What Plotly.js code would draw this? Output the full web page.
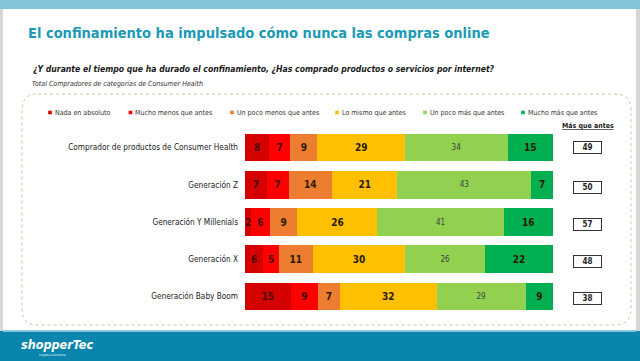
<!DOCTYPE html>
<html>
<head>
<meta charset="utf-8">
<script src="https://cdn.plot.ly/plotly-3.0.1.min.js"></script>
<style>
  html, body { margin: 0; padding: 0; background: #ffffff; }
  #chart { width: 640px; height: 361px; }
</style>
</head>
<body>
<div id="chart"></div>
<script>
// ---------- data ----------
const categories = [
  'Comprador de productos de Consumer Health',
  'Generación Z',
  'Generación Y Millenials',
  'Generación X',
  'Generación Baby Boom'
];
const seriesNames = [
  'Nada en absoluto',
  'Mucho menos que antes',
  'Un poco menos que antes',
  'Lo mismo que antes',
  'Un poco más que antes',
  'Mucho más que antes'
];
const nadaEnAbsoluto   = [8, 7, 2, 6, 15];
const muchoMenos       = [7, 7, 6, 5, 9];
const unPocoMenos      = [9, 14, 9, 11, 7];
const loMismo          = [29, 21, 26, 30, 32];
const unPocoMas        = [34, 43, 41, 26, 29];
const muchoMas         = [15, 7, 16, 22, 9];
const masQueAntes      = [49, 50, 57, 48, 38];

const titleText    = 'El confinamiento ha impulsado cómo nunca las compras online';
const subtitleText = '¿Y durante el tiempo que ha durado el confinamiento, ¿Has comprado productos o servicios por internet?';
const baseText     = 'Total Compradores de categorías de Consumer Health';
const boxHeader    = 'Más que antes';

// ---------- styling ----------
const W = 640, H = 361;
const X = px => px / W;
const Y = py => 1 - py / H;
const FONT = '"DejaVu Sans Condensed", "DejaVu Sans", sans-serif';
const colors = ['#D50000', '#FF0000', '#ED7D31', '#FFC000', '#92D050', '#00B050'];
const seriesValues = [nadaEnAbsoluto, muchoMenos, unPocoMenos, loMismo, unPocoMas, muchoMas];

const traces = seriesValues.map((vals, i) => {
  const light = (i === 4);
  return {
    type: 'bar',
    orientation: 'h',
    name: seriesNames[i],
    y: categories,
    x: vals,
    text: vals.map(String),
    texttemplate: '%{text}',
    textposition: 'inside',
    insidetextanchor: 'middle',
    constraintext: 'none',
    textangle: 0,
    textfont: light
      ? { family: FONT, size: 8, color: '#404040' }
      : { family: FONT, size: 10, color: i < 2 ? '#4a0a00' : '#2a1a00', weight: 'bold' },
    marker: { color: colors[i], line: { width: 0 } },
    hoverinfo: 'skip',
    showlegend: false
  };
});

// ---------- shapes ----------
const shapes = [];
// side grey borders
shapes.push({ type: 'rect', xref: 'paper', yref: 'paper', x0: X(0), x1: X(3), y0: Y(361), y1: Y(0), fillcolor: '#d6d6d6', line: { width: 0 }, layer: 'below' });
shapes.push({ type: 'rect', xref: 'paper', yref: 'paper', x0: X(636), x1: X(640), y0: Y(361), y1: Y(0), fillcolor: '#d6d6d6', line: { width: 0 }, layer: 'below' });
// top bar
shapes.push({ type: 'rect', xref: 'paper', yref: 'paper', x0: X(0), x1: X(640), y0: Y(9), y1: Y(0), fillcolor: '#82C4D9', line: { width: 0 }, layer: 'below' });
// footer bar
shapes.push({ type: 'rect', xref: 'paper', yref: 'paper', x0: X(0), x1: X(640), y0: Y(361), y1: Y(331), fillcolor: '#0A86AE', line: { width: 0 }, layer: 'below' });
shapes.push({ type: 'rect', xref: 'paper', yref: 'paper', x0: X(3), x1: X(636), y0: Y(332), y1: Y(330), fillcolor: '#8ac6da', line: { width: 0 }, layer: 'below' });
// dotted rounded frame
(function () {
  const l = 22, r = 631, t = 94, b = 325, rad = 16;
  const p = 'M' + X(l + rad) + ',' + Y(t) +
    ' L' + X(r - rad) + ',' + Y(t) +
    ' Q' + X(r) + ',' + Y(t) + ' ' + X(r) + ',' + Y(t + rad) +
    ' L' + X(r) + ',' + Y(b - rad) +
    ' Q' + X(r) + ',' + Y(b) + ' ' + X(r - rad) + ',' + Y(b) +
    ' L' + X(l + rad) + ',' + Y(b) +
    ' Q' + X(l) + ',' + Y(b) + ' ' + X(l) + ',' + Y(b - rad) +
    ' L' + X(l) + ',' + Y(t + rad) +
    ' Q' + X(l) + ',' + Y(t) + ' ' + X(l + rad) + ',' + Y(t) + ' Z';
  shapes.push({ type: 'path', xref: 'paper', yref: 'paper', path: p, line: { color: '#c9c99a', width: 1, dash: 'dot' }, fillcolor: 'rgba(0,0,0,0)', layer: 'below' });
})();

// legend (manual)
const legendMarkerX = [50, 130.5, 232, 337, 425, 523];
const legendY = 112.5;
const annotations = [];
seriesNames.forEach((n, i) => {
  const cx = legendMarkerX[i];
  shapes.push({ type: 'rect', xref: 'paper', yref: 'paper', x0: X(cx - 1.8), x1: X(cx + 1.8), y0: Y(legendY + 1.8), y1: Y(legendY - 1.8), fillcolor: colors[i], line: { width: 0 } });
  annotations.push({ xref: 'paper', yref: 'paper', x: X(cx + 2.5), y: Y(legendY), xanchor: 'left', yanchor: 'middle', showarrow: false, text: n, font: { family: FONT, size: 7, color: '#333333' } });
});

// title texts
annotations.push({ xref: 'paper', yref: 'paper', x: X(26), y: Y(33), xanchor: 'left', yanchor: 'middle', showarrow: false, text: titleText, font: { family: FONT, size: 14.5, color: '#1A9AB6', weight: 'bold' } });
annotations.push({ xref: 'paper', yref: 'paper', x: X(31), y: Y(69), xanchor: 'left', yanchor: 'middle', showarrow: false, text: '<b><i>' + subtitleText + '</i></b>', font: { family: FONT, size: 8.6, color: '#1a1a1a' } });
annotations.push({ xref: 'paper', yref: 'paper', x: X(30), y: Y(84), xanchor: 'left', yanchor: 'middle', showarrow: false, text: '<i>' + baseText + '</i>', font: { family: FONT, size: 7, color: '#333333' } });

// "Más que antes" header and boxes
annotations.push({ xref: 'paper', yref: 'paper', x: X(587.5), y: Y(126), xanchor: 'center', yanchor: 'middle', showarrow: false, text: '<b><u>' + boxHeader + '</u></b>', font: { family: FONT, size: 7, color: '#222222' } });
masQueAntes.forEach((v, i) => {
  annotations.push({ xref: 'paper', yref: 'y', x: X(587.5), y: categories[i], yshift: i === 0 ? 0 : -2.5, xanchor: 'center', yanchor: 'middle', showarrow: false,
    text: '<b>' + v + '</b>', font: { family: FONT, size: 8, color: '#222222' },
    width: 27, height: 11, borderpad: 0, bordercolor: '#333333', borderwidth: 1, bgcolor: '#ffffff' });
});

// logo
annotations.push({ xref: 'paper', yref: 'paper', x: X(19), y: Y(344), xanchor: 'left', yanchor: 'middle', showarrow: false, text: '<b><i>shopperTec</i></b>', font: { family: FONT, size: 12.5, color: '#ffffff' } });
annotations.push({ xref: 'paper', yref: 'paper', x: X(52), y: Y(355), xanchor: 'center', yanchor: 'middle', showarrow: false, text: 'Insights & Solutions', font: { family: FONT, size: 3, color: '#ffffff' } });

const layout = {
  width: W, height: H,
  margin: { l: 0, r: 0, t: 0, b: 0, pad: 0 },
  paper_bgcolor: '#ffffff',
  plot_bgcolor: 'rgba(0,0,0,0)',
  barmode: 'stack',
  barnorm: 'percent',
  bargap: 0.25,
  showlegend: false,
  xaxis: { domain: [X(245), X(553)], range: [0, 100], visible: false, fixedrange: true },
  yaxis: {
    domain: [Y(315.1), Y(128.9)],
    type: 'category',
    range: [4.5, -0.5],
    showgrid: false, zeroline: false, showline: false,
    ticks: '', ticklabelstandoff: 6,
    tickfont: { family: FONT, size: 8.2, color: '#1a1a1a' },
    fixedrange: true
  },
  shapes: shapes,
  annotations: annotations
};

Plotly.newPlot('chart', traces, layout, { displayModeBar: false, staticPlot: true });
</script>
</body>
</html>
